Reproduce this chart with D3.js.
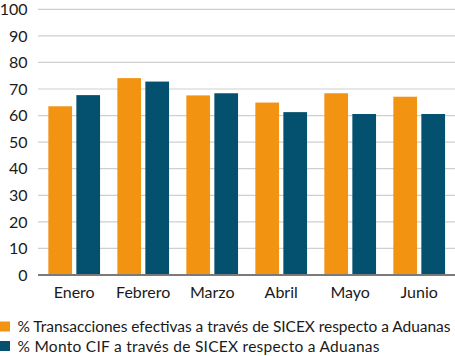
<!DOCTYPE html>
<html><head><meta charset="utf-8">
<script src="https://cdn.jsdelivr.net/npm/d3@7"></script>
<style>body{margin:0;background:#fff}svg{display:block;font-family:Lato,"Open Sans",sans-serif}</style>
</head><body><div id="chart"></div>
<script>
const categories = ["Enero","Febrero","Marzo","Abril","Mayo","Junio"];
const seriesNames = ["% Transacciones efectivas a través de SICEX respecto a Aduanas","% Monto CIF a través de SICEX respecto a Aduanas"];
const transacciones = [63.5, 74.1, 67.6, 64.9, 68.4, 67.1];
const montoCIF = [67.7, 72.8, 68.4, 61.3, 60.6, 60.6];
const yTicks = [0,10,20,30,40,50,60,70,80,90,100];
const colors = ["#F29312","#03516E"];

const W=455,H=356;
const svg=d3.select("#chart").append("svg").attr("width",W).attr("height",H);
const x=d3.scaleBand().domain(categories).range([39.7,453.7]).paddingInner(0).paddingOuter(0);
const y=d3.scaleLinear().domain([0,100]).range([275,9.3]);

// gridlines
svg.append("g").selectAll("line").data(yTicks.filter(d=>d>0)).join("line")
 .attr("x1",38).attr("x2",455).attr("y1",d=>y(d)).attr("y2",d=>y(d))
 .attr("stroke","#cfcfcf").attr("stroke-width",1.2);

// y labels
svg.append("g").selectAll("text").data(yTicks).join("text")
 .attr("x",27.5).attr("y",d=>y(d)).attr("dy","0.36em").attr("text-anchor","end")
 .attr("font-size",16).attr("fill","#1a1a1a").text(d=>d);

const data=[transacciones,montoCIF];
const bw=23.7, inner=4.3;
data.forEach((vals,si)=>{
 svg.append("g").selectAll("rect").data(vals).join("rect")
  .attr("x",(d,i)=>x(categories[i])+x.bandwidth()/2 - bw - inner/2 + si*(bw+inner))
  .attr("width",bw)
  .attr("y",d=>y(d)).attr("height",d=>y(0)-y(d))
  .attr("fill",colors[si]);
});

// baseline
svg.append("line").attr("x1",38).attr("x2",455).attr("y1",y(0)).attr("y2",y(0))
 .attr("stroke","#7a7a7a").attr("stroke-width",2);

// x labels
svg.append("g").selectAll("text").data(categories).join("text")
 .attr("x",d=>x(d)+x.bandwidth()/2).attr("y",297.5).attr("text-anchor","middle")
 .attr("font-size",16).attr("fill","#1a1a1a").text(d=>d);

// legend
const lg=svg.append("g").selectAll("g").data(seriesNames).join("g")
 .attr("transform",(d,i)=>`translate(0,${326.5+i*19.5})`);
lg.append("rect").attr("x",0).attr("y",-5).attr("width",10).attr("height",10).attr("fill",(d,i)=>colors[i]);
lg.append("text").attr("x",17.5).attr("y",0).attr("dy","0.36em").attr("font-size",15.5)
 .attr("fill","#1a1a1a").attr("textLength",(d,i)=>i===0?433:362).attr("lengthAdjust","spacing").text(d=>d);
</script></body></html>
